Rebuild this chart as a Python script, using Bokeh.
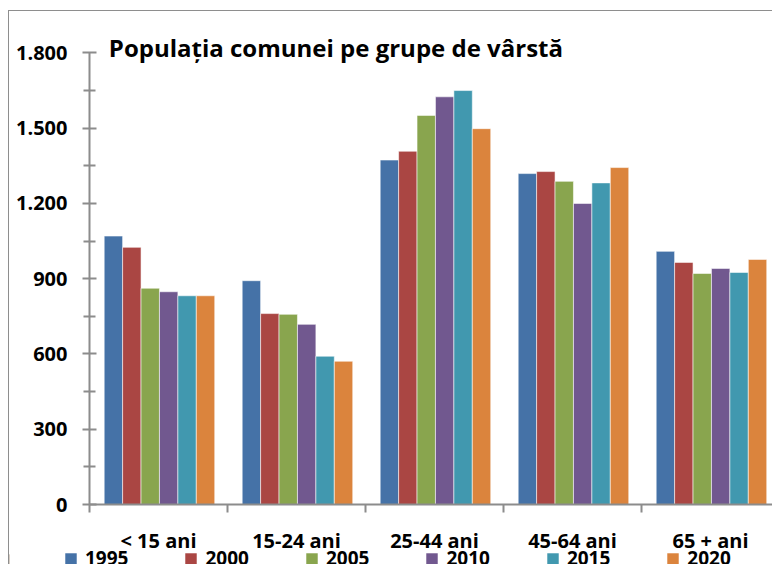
from bokeh.plotting import figure
from bokeh.layouts import column
from bokeh.models import (Range1d, FixedTicker, Legend, LegendItem, Label)
from bokeh.embed import file_html
from bokeh.resources import INLINE

# ---- data ----
categories = ["< 15 ani", "15-24 ani", "25-44 ani", "45-64 ani", "65 + ani"]
years = ["1995", "2000", "2005", "2010", "2015", "2020"]
v1995 = [1070, 892, 1373, 1319, 1009]
v2000 = [1025, 761, 1408, 1327, 965]
v2005 = [862, 758, 1551, 1288, 921]
v2010 = [848, 718, 1625, 1200, 941]
v2015 = [832, 591, 1650, 1282, 925]
v2020 = [832, 571, 1498, 1343, 977]
series = [v1995, v2000, v2005, v2010, v2015, v2020]
colors = ["#4572A7", "#AA4643", "#89A54E", "#71588F", "#4198AF", "#DB843D"]
y_ticks = [0, 300, 600, 900, 1200, 1500, 1800]
y_tick_labels = ["0", "300", "600", "900", "1.200", "1.500", "1.800"]
title_text = "Populația comunei pe grupe de vârstă"

FONT = "Open Sans"
AXIS_COL = "#8c8c8c"

# ---- layout numbers (pixels) ----
W = 763
BL, BT, BB = 80, 3, 51
FRAME_BOTTOM_PAGE = 505
MAIN_H = FRAME_BOTTOM_PAGE - 11 + BB
LEG_OVERLAP = 12
LEG_H = 564 - (11 + MAIN_H) + LEG_OVERLAP
CAT_PX = 138.0
frame_w = W - BL
frame_h = MAIN_H - BT - BB
px_per_unit = 452.5 / 1800.0
y_end = frame_h / px_per_unit

p = figure(width=W, height=MAIN_H, output_backend="svg", toolbar_location=None,
           x_range=Range1d(0, frame_w / CAT_PX), y_range=Range1d(0, y_end),
           min_border_left=BL, min_border_right=0, min_border_top=BT,
           min_border_bottom=BB)
p.outline_line_color = None
p.xgrid.grid_line_color = None
p.ygrid.grid_line_color = None
p.background_fill_color = "white"
p.border_fill_color = "white"

n = len(years)
bw = 0.1335
renderers = []
for i, (vals, col) in enumerate(zip(series, colors)):
    xs = [k + 0.507 + (i - (n - 1) / 2) * bw for k in range(len(categories))]
    r = p.vbar(x=xs, top=vals, width=bw, bottom=0, fill_color=col,
               line_color="white", line_alpha=0.55, line_width=1)
    renderers.append(r)

# y axis
ya = p.yaxis[0]
ya.bounds = (0, 1800)
ya.ticker = FixedTicker(ticks=y_ticks,
                        minor_ticks=[t + 150 for t in y_ticks[:-1]])
ya.major_label_overrides = {t: l for t, l in zip(y_ticks, y_tick_labels)}
ya.axis_line_color = AXIS_COL
ya.axis_line_width = 2
ya.major_tick_line_color = AXIS_COL
ya.major_tick_line_width = 2
ya.minor_tick_line_color = AXIS_COL
ya.minor_tick_line_width = 2
ya.major_tick_in = 7
ya.major_tick_out = 7
ya.minor_tick_in = 6
ya.minor_tick_out = 6
ya.major_label_standoff = 15
ya.major_label_text_font = FONT
ya.major_label_text_font_style = "bold"
ya.major_label_text_font_size = "20px"
ya.major_label_text_color = "black"

# x axis
xa = p.xaxis[0]
centers = [k + 0.5 for k in range(len(categories))]
xa.ticker = FixedTicker(ticks=centers, minor_ticks=list(range(len(categories) + 1)))
xa.major_label_overrides = {c: l for c, l in zip(centers, categories)}
xa.axis_line_color = AXIS_COL
xa.axis_line_width = 2
xa.major_tick_line_color = None
xa.major_tick_in = 0
xa.major_tick_out = 8
xa.minor_tick_line_color = AXIS_COL
xa.minor_tick_line_width = 2
xa.minor_tick_in = 0
xa.minor_tick_out = 8
xa.major_label_standoff = 14
xa.major_label_text_font = FONT
xa.major_label_text_font_style = "bold"
xa.major_label_text_font_size = "20px"
xa.major_label_text_color = "black"

# title (inside the frame, above the axis bounds)
p.add_layout(Label(x=0.14, y=(505 - 47) / px_per_unit, text=title_text,
                   text_font=FONT, text_font_style="bold",
                   text_font_size="24px", text_baseline="alphabetic",
                   text_color="black"))

# legend strip (cut at the bottom edge like the reference)
lg = figure(width=W, height=LEG_H, output_backend="svg", toolbar_location=None,
            x_axis_type=None, y_axis_type=None,
            x_range=Range1d(0, 1), y_range=Range1d(0, 1),
            min_border_left=0, min_border_right=0, min_border_top=0,
            min_border_bottom=0)
lg.frame_align = False
lg.outline_line_color = None
lg.xgrid.grid_line_color = None
lg.ygrid.grid_line_color = None
lg.background_fill_alpha = 0
lg.border_fill_alpha = 0
lg.styles = {"margin-top": f"-{LEG_OVERLAP}px"}
dummies = []
for col in colors:
    dummies.append(lg.vbar(x=[-5], top=[0.5], width=0.1, fill_color=col,
                           line_color="white", line_alpha=0.55, line_width=1))
legend = Legend(items=[LegendItem(label=y, renderers=[r]) for y, r in zip(years, dummies)],
                orientation="horizontal", location=(54, -7),
                glyph_width=15, glyph_height=15, label_standoff=7, spacing=55,
                padding=0, margin=0, border_line_color=None,
                background_fill_alpha=0,
                label_text_font=FONT, label_text_font_style="bold",
                label_text_font_size="19px", label_text_color="black")
lg.add_layout(legend, "center")

layout = column(p, lg, spacing=0)
layout.styles = {"margin-left": "8px", "margin-top": "10px",
                 "border-left": "1px solid #8e8e8e",
                 "border-top": "1px solid #8e8e8e"}

open("out.html", "w").write(file_html(layout, INLINE))
